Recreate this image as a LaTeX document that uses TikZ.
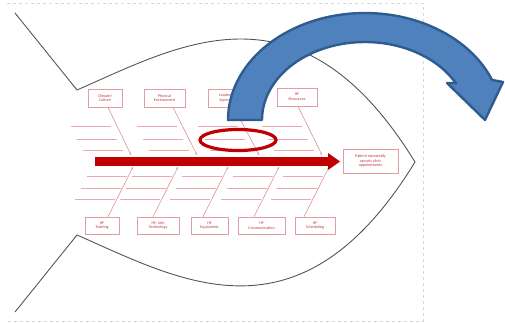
\documentclass[tikz,border=0pt]{standalone}
\usepackage{fontspec}
\setmainfont{Carlito}
\usetikzlibrary{arrows.meta,shapes.geometric}
\definecolor{boxline}{HTML}{E49CA4}
\definecolor{boxtext}{HTML}{C03844}
\definecolor{bone}{HTML}{DE909A}
\definecolor{subline}{HTML}{EEA8B0}
\definecolor{spinered}{HTML}{C00000}
\definecolor{outline}{HTML}{555555}
\definecolor{bluefill}{HTML}{4F81BD}
\definecolor{blueedge}{HTML}{2F5C8F}
\definecolor{framegray}{HTML}{D6D6D6}
\begin{document}
\begin{tikzpicture}[x=1pt,y=-1pt,
  cause/.style={draw=boxline, line width=0.6pt, text=boxtext, align=center,
    inner sep=0pt, font=\fontsize{4.1}{4.7}\selectfont, minimum height=18pt},
  bonearrow/.style={draw=bone, line width=0.6pt, -{Stealth[length=2.4pt,width=2pt]}},
  subcause/.style={draw=subline, line width=0.75pt},
  fish/.style={draw=outline, line width=0.9pt},
  ring/.style={ellipse, draw=spinered, line width=3.2pt, inner sep=0pt},
  bigarrow/.style={fill=bluefill, draw=blueedge, line width=2.4pt, line join=round},
  pageframe/.style={draw=framegray, line width=0.5pt, dashed}]
\useasboundingbox (0,0) rectangle (505,322);

% page edge
\draw[pageframe] (7,3) -- (423,3) -- (423,321) -- (7,321);

% fish outline: tail and body
\draw[fish] (15,13) -- (77,90) .. controls (180,45) and (300,-25) .. (415,162)
  .. controls (300,350) and (180,280) .. (77,235) -- (15,312);

% sub-cause lines above the spine
\foreach \b/\s in {108/131,173/197,234/259,298/322}{
  \foreach \y in {126,139,150}{
    \pgfmathsetmacro\bx{\b+(\y-107)/48*(\s-\b)-6}
    \draw[subcause] ({\bx-40},\y) -- (\bx,\y);
  }
}
% sub-cause lines below the spine
\foreach \b/\s in {108/133,153/178,203/228,254/279,304/329}{
  \foreach \y in {176,188,199}{
    \pgfmathsetmacro\bx{\s+(\y-167)/50*(\b-\s)-2}
    \draw[subcause] ({\bx-40},\y) -- (\bx,\y);
  }
}

% cause boxes
\node[cause, minimum width=34pt] (cc) at (105,98) {Climate/\\Culture};
\node[cause, minimum width=41pt] (pe) at (164.5,98) {Physical\\Environment};
\node[cause, minimum width=42pt] (ls) at (229,98) {Leadership/\\Supervision};
\node[cause, minimum width=40pt] (hr) at (297,97) {HF\\Resources};
\node[cause, minimum width=34pt, minimum height=17pt] (tr) at (102,225.5) {HF\\Training};
\node[cause, minimum width=42pt, minimum height=17pt] (it) at (158,225.5) {HF: Info\\Technology};
\node[cause, minimum width=37pt, minimum height=17pt] (eq) at (209.5,225.5) {HF\\Equipment};
\node[cause, minimum width=47pt, minimum height=17pt] (co) at (261.5,225.5) {HF\\Communication};
\node[cause, minimum width=40pt, minimum height=17pt] (sc) at (315,225.5) {HF\\Scheduling};
\node[cause, minimum width=55pt, minimum height=24pt] (eff) at (370.5,161) {Patient repeatedly\\cancels clinic\\appointments};

% points where the bones meet the spine
\coordinate (s1) at (131,155);
\coordinate (s2) at (197,155);
\coordinate (s3) at (259,155);
\coordinate (s4) at (322,155);
\coordinate (u1) at (133,167);
\coordinate (u2) at (178,167);
\coordinate (u3) at (228,167);
\coordinate (u4) at (279,167);
\coordinate (u5) at (329,167);

% bones
\draw[bonearrow] ([xshift=3pt]cc.south) -- (s1);
\draw[bonearrow] ([xshift=8.5pt]pe.south) -- (s2);
\draw[bonearrow] ([xshift=5pt]ls.south) -- (s3);
\draw[bonearrow] ([xshift=1pt]hr.south) -- (s4);
\draw[bonearrow] ([xshift=6pt]tr.north) -- (u1);
\draw[bonearrow] ([xshift=-5pt]it.north) -- (u2);
\draw[bonearrow] ([xshift=-6.5pt]eq.north) -- (u3);
\draw[bonearrow] ([xshift=-7.5pt]co.north) -- (u4);
\draw[bonearrow] ([xshift=-11pt]sc.north) -- (u5);

% spine arrow
\fill[spinered] (95,157) rectangle (329,166);
\fill[spinered] (328,153) -- (340,161.5) -- (328,170) -- cycle;

% highlight ring
\node[ring, minimum width=76pt, minimum height=21pt] (hl) at (238,140) {};

% curved block arrow
\draw[bigarrow]
  plot[domain=180:22, samples=60] ({365+137*cos(\x)}, {120-107*sin(\x)})
  -- (503,82) -- (485,120) -- (447,83) -- (456,83)
  -- plot[domain=28:180, samples=60] ({365+103*cos(\x)}, {120-78*sin(\x)})
  -- cycle;
\end{tikzpicture}
\end{document}
